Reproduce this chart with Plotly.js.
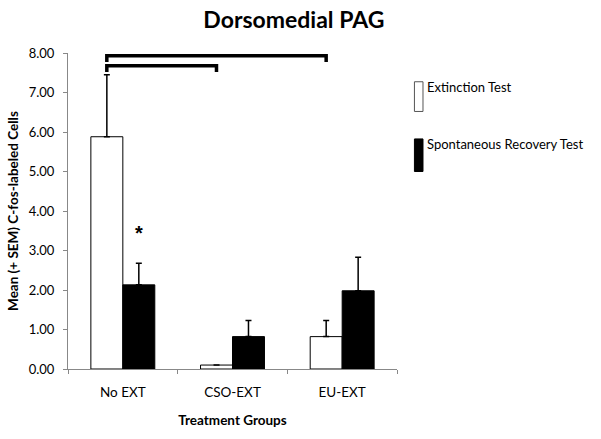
<!DOCTYPE html>
<html>
<head>
<meta charset="utf-8">
<script src="https://cdn.plot.ly/plotly-3.0.1.min.js"></script>
<style>html,body{margin:0;padding:0;background:#fff;}#chart{width:601px;height:439px;}</style>
</head>
<body>
<div id="chart"></div>
<script>
// Data
const categories = ["No EXT", "CSO-EXT", "EU-EXT"];
const seriesNames = ["Extinction Test", "Spontaneous Recovery Test"];
const extinctionMean = [5.88, 0.10, 0.82];
const extinctionSEM = [1.57, 0.00, 0.41];
const recoveryMean = [2.13, 0.82, 1.98];
const recoverySEM = [0.55, 0.41, 0.85];
const yTickVals = [0, 1, 2, 3, 4, 5, 6, 7, 8];
// significance brackets: from category index to category index (Extinction bars), height
const bracketFrom = [0, 0];
const bracketTo = [2, 1];
const bracketY = [7.93, 7.68];
const starCategory = 0;
const starY = 3.45;

const barOffset = 0.146;
const tickDrop = 0.16;

const traces = [
  {
    type: "bar", name: seriesNames[0], x: categories, y: extinctionMean,
    marker: {color: "#ffffff", line: {color: "#000000", width: 1}},
    error_y: {type: "data", symmetric: false, array: extinctionSEM, arrayminus: extinctionSEM.map(() => 0),
              color: "#000000", thickness: 1.5, width: 3, visible: true},
    showlegend: false, hoverinfo: "skip"
  },
  {
    type: "bar", name: seriesNames[1], x: categories, y: recoveryMean,
    marker: {color: "#000000", line: {color: "#000000", width: 1}},
    error_y: {type: "data", symmetric: false, array: recoverySEM, arrayminus: recoverySEM.map(() => 0),
              color: "#000000", thickness: 1.5, width: 3, visible: true},
    showlegend: false, hoverinfo: "skip"
  }
];

const shapes = [];
for (let i = 0; i < bracketFrom.length; i++) {
  const x0 = bracketFrom[i] - barOffset, x1 = bracketTo[i] - barOffset, y = bracketY[i];
  shapes.push({
    type: "path", xref: "x", yref: "y",
    path: `M ${x0},${y - tickDrop} L ${x0},${y} L ${x1},${y} L ${x1},${y - tickDrop}`,
    line: {color: "#000000", width: 3.5}
  });
}
// Legend keys (paper coordinates)
shapes.push({type: "rect", xref: "paper", yref: "paper", x0: 1.053, x1: 1.079, y0: 0.815, y1: 0.909,
             line: {color: "#555555", width: 1}, fillcolor: "#ffffff"});
shapes.push({type: "rect", xref: "paper", yref: "paper", x0: 1.053, x1: 1.079, y0: 0.625, y1: 0.728,
             line: {color: "#000000", width: 1}, fillcolor: "#000000"});

const FONT = "Lato, 'Open Sans', sans-serif";

const annotations = [
  {xref: "x", yref: "y", x: starCategory + barOffset, y: starY, text: "<b>*</b>", showarrow: false,
   font: {family: "Liberation Sans, Arial, sans-serif", size: 20, color: "#000"}},
  {xref: "paper", yref: "paper", x: 1.084, y: 0.8916, xanchor: "left", yanchor: "middle",
   text: seriesNames[0], showarrow: false, font: {family: FONT, size: 13, color: "#000"}},
  {xref: "paper", yref: "paper", x: 1.084, y: 0.7115, xanchor: "left", yanchor: "middle",
   text: seriesNames[1], showarrow: false, font: {family: FONT, size: 13, color: "#000"}}
];

const layout = {
  width: 601, height: 439,
  margin: {l: 68, r: 204, t: 53, b: 70, pad: 0},
  paper_bgcolor: "#ffffff", plot_bgcolor: "#ffffff",
  barmode: "group", bargap: 0.417, bargroupgap: 0,
  showlegend: false,
  title: {text: "<b>Dorsomedial PAG</b>", x: 0.489, xref: "container", xanchor: "center",
          y: 0.954, yref: "container", yanchor: "middle",
          font: {family: FONT, size: 23, color: "#000"}},
  xaxis: {
    type: "category", range: [-0.5, 2.5], fixedrange: true,
    showline: true, linecolor: "#888888", linewidth: 1,
    ticks: "outside", tickson: "boundaries", ticklen: 4, tickcolor: "#888888",
    ticklabelstandoff: 11,
    showgrid: false, zeroline: false,
    tickfont: {family: FONT, size: 13.5, color: "#000"},
    title: {text: "<b>Treatment Groups</b>", standoff: 16, font: {family: FONT, size: 13.5, color: "#000"}}
  },
  yaxis: {
    range: [0, 8], tickvals: yTickVals, tickformat: ".2f", fixedrange: true,
    showline: true, linecolor: "#888888", linewidth: 1,
    ticks: "outside", ticklen: 4, tickcolor: "#888888",
    ticklabelstandoff: 6,
    showgrid: false, zeroline: false,
    tickfont: {family: FONT, size: 13, color: "#000"},
    title: {text: "<b>Mean (+ SEM) C-fos-labeled Cells</b>", standoff: 6, font: {family: FONT, size: 13.5, color: "#000"}}
  },
  shapes: shapes,
  annotations: annotations
};

Plotly.newPlot("chart", traces, layout, {displayModeBar: false, staticPlot: true});
</script>
</body>
</html>
